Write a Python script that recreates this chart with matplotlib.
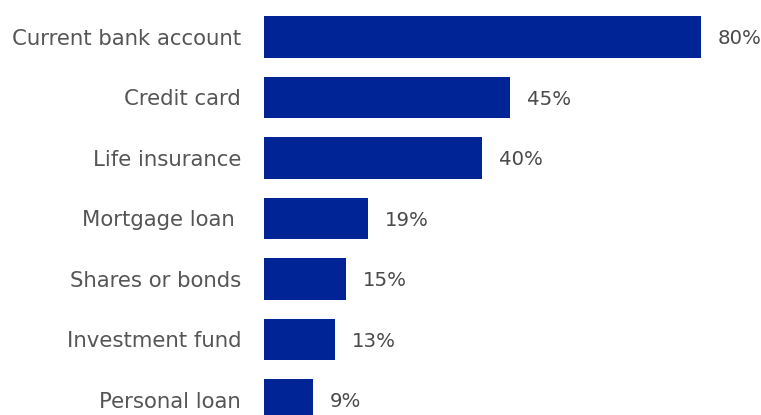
import matplotlib.pyplot as plt

# products held, share of respondents (%)
products = ["Current bank account", "Credit card", "Life insurance",
            "Mortgage loan ", "Shares or bonds", "Investment fund",
            "Personal loan"]
shares = [80, 45, 40, 19, 15, 13, 9]

bar_color = "#002395"
text_color = "#555555"

fig = plt.figure(figsize=(7.61, 4.15), dpi=100)
ax = fig.add_axes([264 / 761, 0, 497 / 761, 1])

pos = list(range(len(products)))
ax.barh(pos, shares, height=0.69, color=bar_color)

ax.set_xlim(0, 91)
ax.set_ylim(6.25, -0.61)

ax.set_yticks(pos)
ax.set_yticklabels(products, fontsize=15.3, color=text_color,
                   family="DejaVu Sans", va="center_baseline")
ax.tick_params(axis="y", length=0, pad=16.5)
ax.set_xticks([])
for s in ax.spines.values():
    s.set_visible(False)

# value labels next to each bar
for y, v in zip(pos, shares):
    ax.text(v + 3.1, y, f"{v}%", va="center_baseline", ha="left",
            fontsize=14.2, color="#4a4a4a", family="DejaVu Sans")

fig.savefig("out.png", dpi=100)
